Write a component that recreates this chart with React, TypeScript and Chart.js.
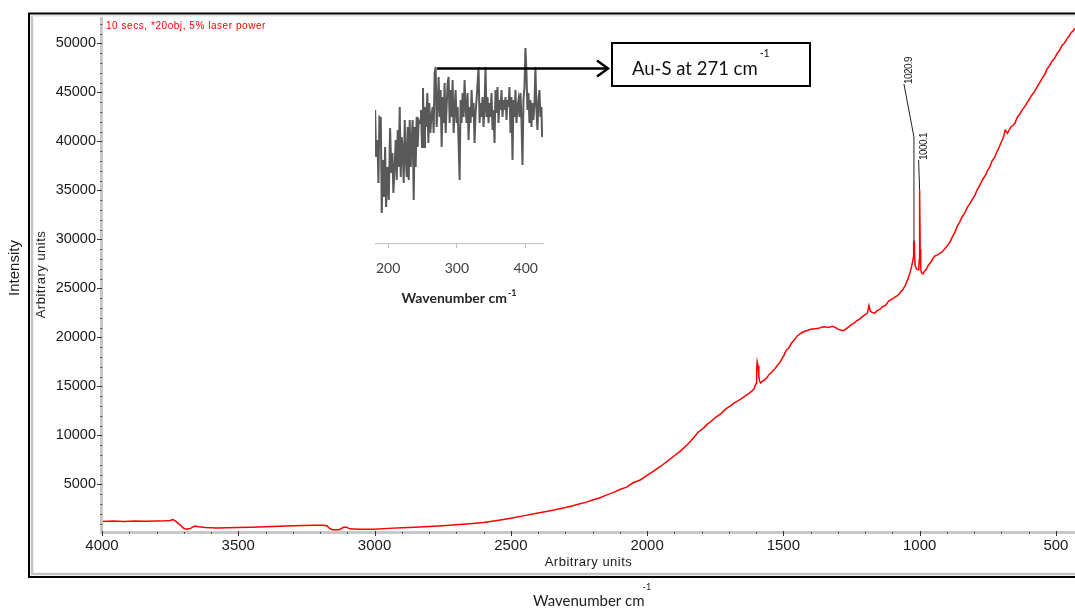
import React, { useEffect, useRef } from 'react';
import { Chart, registerables } from 'chart.js';

Chart.register(...registerables);

// ---------------- main Raman spectrum ----------------
const mainWavenumber = [
  4000, 3960, 3920, 3880, 3840, 3800, 3770, 3750, 3740, 3730, 3715, 3700, 3690, 3675, 3660, 3645, 3620, 3580, 3540, 3500,
  3450, 3400, 3350, 3300, 3260, 3220, 3190, 3175, 3165, 3155, 3130, 3115, 3105, 3090, 3060, 3030, 3000, 2950, 2900, 2850,
  2800, 2750, 2700, 2650, 2600, 2550, 2500, 2450, 2400, 2350,
  2300, 2275, 2250, 2225, 2200, 2175, 2150, 2125, 2100, 2075, 2050, 2025, 2000, 1975, 1950, 1925, 1900, 1875, 1850, 1830,
  1813, 1795, 1780, 1765, 1750, 1730, 1710, 1695, 1680, 1665, 1650, 1637, 1625, 1615, 1608, 1603, 1600, 1598, 1596, 1593,
  1590, 1587, 1583, 1578, 1570, 1560, 1552, 1545, 1538, 1530, 1520, 1512, 1505, 1497, 1490, 1480, 1470, 1460, 1450, 1440,
  1430, 1415, 1400, 1385, 1370, 1358, 1348, 1335, 1320, 1310, 1300, 1290, 1280, 1270, 1260, 1250, 1240, 1230, 1220, 1210,
  1200, 1192, 1186, 1181, 1175, 1165, 1155, 1145, 1135, 1125, 1115, 1107, 1098, 1090, 1082, 1075, 1068, 1063, 1057, 1052,
  1047, 1042, 1035, 1030, 1026, 1023, 1022, 1020.5, 1019, 1017, 1012, 1006, 1003, 1001, 1000.5, 999.5, 998, 996, 993, 988,
  982, 975, 968, 958, 946, 935, 920, 910, 898, 888, 880, 870, 862, 853, 845, 835, 825, 815, 805, 797,
  789, 780, 770, 760, 752, 743, 735, 725, 716, 708, 700, 694, 690, 686, 682, 678, 672, 665, 658, 650,
  642, 633, 625, 615, 606, 598, 590, 580, 569, 560, 550, 541, 533, 524, 515, 505, 496, 487, 478, 469,
  460, 452, 445, 437, 430,
];
const mainIntensity = [
  1230, 1260, 1220, 1270, 1240, 1280, 1300, 1330, 1420, 1250, 900, 520, 430, 520, 760, 680, 600, 560, 590, 600,
  640, 680, 740, 780, 820, 850, 830, 780, 520, 380, 390, 600, 650, 470, 430, 420, 440, 520, 580, 640,
  700, 780, 880, 990, 1110, 1320, 1560, 1820, 2080, 2350,
  2650, 2800, 3000, 3170, 3420, 3620, 3910, 4170, 4480, 4730, 5200, 5460, 5920, 6380, 6860, 7380, 7930, 8480, 9120, 9740,
  10330, 10700, 11130, 11450, 11830, 12200, 12730, 13000, 13330, 13550, 13830, 14100, 14330, 14550, 14730, 15120, 15300, 16800, 17500, 17100,
  16000, 15500, 15350, 15520, 15630, 15920, 16230, 16380, 16630, 16830, 17230, 17480, 17830, 18230, 18680, 18930, 19430, 19730, 20130, 20330,
  20530, 20680, 20830, 20880, 20930, 21080, 21100, 21020, 21130, 21030, 20850, 20760, 20700, 20880, 21080, 21330, 21470, 21730, 21870, 22130,
  22320, 22480, 23250, 22700, 22560, 22480, 22760, 22880, 23170, 23280, 23670, 23830, 23970, 24130, 24270, 24430, 24720, 24830, 25120, 25330,
  25720, 26030, 26670, 27180, 27720, 28180, 29600, 29700, 28900, 27400, 27000, 26900, 27300, 28000, 35000, 34500, 29000, 27000, 26600, 26480,
  26770, 26980, 27370, 27730, 28270, 28430, 28670, 28980, 29370, 29780, 30270, 30780, 31370, 31780, 32270, 32680, 33270, 33680, 34170, 34530,
  35070, 35480, 36070, 36480, 36970, 37380, 37970, 38380, 38970, 39430, 39970, 40330, 40720, 41150, 41000, 40830, 41170, 41480, 41630, 41880,
  42470, 42780, 43170, 43530, 43970, 44280, 44670, 45030, 45570, 45980, 46470, 46830, 47370, 47680, 48170, 48480, 48970, 49280, 49770, 50030,
  50470, 50730, 51070, 51280, 51550,
];
const xTickValues = [4000, 3500, 3000, 2500, 2000, 1500, 1000, 500];
const yTickValues = [5000, 10000, 15000, 20000, 25000, 30000, 35000, 40000, 45000, 50000];
const peakLabelWavenumber = [1020.9, 1000.1];
const peakLabelText = ['1020.9', '1000.1'];
const peakTopIntensity = [29650, 35000];
const annotationText = '10 secs, *20obj, 5% laser power';

// ---------------- inset (Au-S region) ----------------
const insetWavenumber = [
  181.2, 182.6, 184.5, 186.0, 187.4, 189.4, 190.8, 192.3, 194.2, 195.7, 197.1, 199.0, 201.0, 202.9, 204.8, 206.3, 207.7, 209.7, 211.1, 212.6,
  214.0, 215.5, 216.9, 218.4, 219.8, 221.3, 222.7, 224.2, 225.6, 227.1, 228.5, 230.0, 231.4, 232.9, 234.3, 235.7, 237.2, 238.6, 240.1, 241.5,
  243.0, 244.4, 246.4, 247.8, 249.3, 250.7, 252.2, 253.6, 255.1, 257.0, 258.5, 259.9, 261.4, 262.8, 264.7, 266.2, 267.6, 269.1, 270.5, 272.0,
  273.4, 274.9, 276.3, 277.8, 279.2, 280.7, 282.1, 283.6, 285.0, 286.5, 287.9, 289.4, 290.8, 292.3, 293.7, 295.2, 296.6, 298.1, 299.5, 301.0,
  302.4, 303.9, 305.3, 306.8, 308.2, 309.7, 311.1, 312.6, 314.0, 315.5, 316.9, 318.4, 319.8, 321.3, 322.7, 324.2, 325.6, 327.1, 328.5, 330.0,
  331.4, 332.9, 334.3, 335.7, 337.2, 338.6, 340.1, 341.5, 343.0, 344.4, 345.9, 347.3, 348.8, 350.2, 351.7, 353.1, 354.6, 356.0, 357.5, 358.9,
  360.4, 361.8, 363.3, 364.7, 366.2, 367.6, 369.1, 370.5, 372.0, 373.4, 374.9, 376.3, 377.8, 379.2, 380.7, 382.1, 383.6, 385.0, 386.5, 387.9,
  389.4, 390.8, 392.3, 393.7, 395.2, 396.6, 398.1, 399.5, 401.0, 402.4, 403.9, 405.3, 406.8, 408.2, 409.7, 411.1, 412.6, 414.0, 415.5, 416.9,
  418.4, 419.8, 421.3, 422.7, 423.7,
];
const insetIntensity = [
  133, 86, 103, 60, 126, 125, 30, 83, 46, 96, 36, 76, 43, 115, 70, 90, 50, 80, 103, 63,
  113, 76, 136, 66, 106, 93, 60, 123, 86, 66, 116, 63, 123, 76, 103, 123, 43, 116, 76, 126,
  96, 123, 120, 133, 96, 155, 96, 136, 116, 150, 100, 140, 110, 126, 136, 110, 170, 176, 116, 136,
  166, 126, 153, 96, 146, 120, 160, 110, 136, 160, 166, 120, 153, 126, 163, 110, 133, 153, 120, 136,
  100, 63, 143, 120, 150, 126, 163, 136, 120, 150, 103, 136, 120, 153, 126, 140, 100, 130, 143, 160,
  176, 120, 140, 126, 146, 116, 136, 176, 126, 146, 120, 140, 126, 150, 113, 133, 100, 153, 130, 156,
  120, 143, 133, 153, 126, 143, 133, 146, 123, 143, 136, 156, 110, 146, 83, 143, 126, 153, 120, 136,
  143, 126, 150, 123, 78, 143, 156, 195, 170, 133, 150, 120, 143, 116, 140, 123, 140, 176, 133, 113,
  143, 153, 126, 136, 106,
];
const insetTickValues = [200, 300, 400];
const auPeakWavenumber = 271;
const auArrowLevel = 175;
const auLabelText = 'Au-S at 271 cm';
const superMinusOne = '-1';

// ---------------- styles ----------------
const SANS = '"Liberation Sans", Arial, sans-serif';
const CAL = 'Lato, "Open Sans", sans-serif';
const RED = '#ff0000';
const AXIS_GRAY = '#c8c8c8';

function line(ctx: CanvasRenderingContext2D, x1: number, y1: number, x2: number, y2: number) {
  ctx.beginPath();
  ctx.moveTo(x1, y1);
  ctx.lineTo(x2, y2);
  ctx.stroke();
}

const mainDecor = {
  id: 'mainDecor',
  beforeDraw(chart: any) {
    const ctx: CanvasRenderingContext2D = chart.ctx;
    ctx.save();
    ctx.fillStyle = '#fff';
    ctx.fillRect(0, 0, chart.width, chart.height);
    ctx.strokeStyle = '#c4c4c4';
    ctx.lineWidth = 2.5;
    line(ctx, 32, 15, 32, 575);
    line(ctx, 31, 574, 1080, 574);
    ctx.strokeStyle = '#e4e4e4';
    ctx.lineWidth = 1.5;
    line(ctx, 31, 15.8, 1080, 15.8);
    ctx.strokeStyle = '#000';
    ctx.lineWidth = 2;
    ctx.strokeRect(29, 13.5, 1100, 563.5);
    ctx.restore();
  },
  afterDatasetsDraw(chart: any) {
    const ctx: CanvasRenderingContext2D = chart.ctx;
    const { left, right, top, bottom } = chart.chartArea;
    const xs = chart.scales.x;
    const ys = chart.scales.y;
    ctx.save();
    ctx.fillStyle = AXIS_GRAY;
    ctx.fillRect(left - 2, top, 3, bottom - top + 2);
    ctx.fillRect(left - 2, bottom - 1, right - left + 2, 3);
    ctx.fillStyle = '#333';
    for (let v = 1000; v <= 52000; v += 1000) {
      const py = Math.round(ys.getPixelForValue(v));
      if (v % 5000 === 0) ctx.fillRect(left - 5, py, 5, 1);
      else ctx.fillRect(left - 1.5, py, 1.5, 1);
    }
    for (let v = 4000; v >= 500; v -= 100) {
      const px = Math.round(xs.getPixelForValue(v));
      if (v % 500 === 0) ctx.fillRect(px, bottom - 1, 1, 5);
      else ctx.fillRect(px, bottom, 1, 1.5);
    }
    // peak labels with leader lines
    const leaderElbowY = [137, 190];
    const labelDx = [-10, -1];
    const labelBaseY = [84, 160];
    const textDx = [5, 6];
    ctx.strokeStyle = '#222';
    ctx.lineWidth = 1;
    ctx.font = `10px ${SANS}`;
    ctx.fillStyle = '#222';
    peakLabelWavenumber.forEach((wn, i) => {
      const px = xs.getPixelForValue(wn);
      const py = ys.getPixelForValue(peakTopIntensity[i]);
      ctx.beginPath();
      ctx.moveTo(px, py);
      ctx.lineTo(px, leaderElbowY[i]);
      ctx.lineTo(px + labelDx[i], labelBaseY[i]);
      ctx.stroke();
      ctx.save();
      ctx.translate(px + labelDx[i] + textDx[i], labelBaseY[i]);
      ctx.rotate(-Math.PI / 2);
      ctx.textAlign = 'left';
      ctx.textBaseline = 'middle';
      (ctx as any).letterSpacing = '-0.6px';
      ctx.fillText(peakLabelText[i], 0, 0);
      ctx.restore();
    });
    // annotation
    ctx.fillStyle = RED;
    ctx.font = `10px ${SANS}`;
    (ctx as any).letterSpacing = '0.55px';
    ctx.textAlign = 'left';
    ctx.textBaseline = 'alphabetic';
    ctx.fillText(annotationText, left + 4, 29);
    // axis titles
    ctx.fillStyle = '#1a1a1a';
    ctx.font = `13px ${SANS}`;
    (ctx as any).letterSpacing = '0.5px';
    ctx.textAlign = 'center';
    ctx.fillText('Arbitrary units', (left + right) / 2, 566);
    ctx.save();
    ctx.translate(41, (top + bottom) / 2);
    ctx.rotate(-Math.PI / 2);
    ctx.textBaseline = 'middle';
    ctx.fillText('Arbitrary units', 0, 0);
    ctx.restore();
    (ctx as any).letterSpacing = '0px';
    ctx.save();
    ctx.font = `15px ${SANS}`;
    ctx.translate(15, 268);
    ctx.rotate(-Math.PI / 2);
    ctx.textBaseline = 'middle';
    ctx.fillText('Intensity', 0, 0);
    ctx.restore();
    ctx.textAlign = 'left';
    ctx.textBaseline = 'alphabetic';
    ctx.font = `15px ${CAL}`;
    ctx.fillStyle = '#222';
    const w = ctx.measureText('Wavenumber cm').width;
    ctx.fillText('Wavenumber cm', 533, 606);
    ctx.font = `9px ${CAL}`;
    ctx.fillText(superMinusOne, 533 + w - 2, 590);
    ctx.restore();
  },
};

const insetDecor = {
  id: 'insetDecor',
  afterDraw(chart: any) {
    const ctx: CanvasRenderingContext2D = chart.ctx;
    const { left, right } = chart.chartArea;
    const xs = chart.scales.x;
    const ys = chart.scales.y;
    ctx.save();
    ctx.fillStyle = '#262626';
    ctx.font = `bold 14px ${CAL}`;
    const t = 'Wavenumber cm';
    const tw = ctx.measureText(t).width;
    ctx.font = `bold 9px ${CAL}`;
    const sw = ctx.measureText(superMinusOne).width;
    const cx = (left + right) / 2;
    const tx = cx - (tw + sw + 1) / 2;
    ctx.font = `bold 14px ${CAL}`;
    ctx.textBaseline = 'alphabetic';
    ctx.fillText(t, tx, 268);
    ctx.font = `bold 9px ${CAL}`;
    ctx.fillText(superMinusOne, tx + tw + 1, 261);
    // arrow
    const ax = xs.getPixelForValue(auPeakWavenumber);
    const ay = Math.round(ys.getPixelForValue(auArrowLevel)) + 0.5;
    const boxL = 257;
    const tipX = boxL - 4;
    ctx.strokeStyle = '#000';
    ctx.lineWidth = 2.5;
    line(ctx, ax, ay, tipX, ay);
    ctx.beginPath();
    ctx.moveTo(tipX - 11, ay - 8);
    ctx.lineTo(tipX, ay);
    ctx.lineTo(tipX - 11, ay + 8);
    ctx.stroke();
    // box
    ctx.fillStyle = '#fff';
    ctx.fillRect(boxL, 8, 198, 43);
    ctx.lineWidth = 2;
    ctx.strokeRect(boxL, 8, 198, 43);
    ctx.fillStyle = '#111';
    ctx.font = `18.5px ${CAL}`;
    const lw = ctx.measureText(auLabelText).width;
    ctx.fillText(auLabelText, boxL + 20, 40);
    ctx.font = `10.5px ${CAL}`;
    ctx.fillText(superMinusOne, boxL + 20 + lw + 2, 22);
    ctx.restore();
  },
};

export default function App() {
  const mainRef = useRef<HTMLCanvasElement>(null);
  const insetRef = useRef<HTMLCanvasElement>(null);

  useEffect(() => {
    document.body.style.margin = '0';
    const mainCtx = mainRef.current!.getContext('2d')!;
    const main = new Chart(mainCtx, {
      type: 'line',
      data: {
        datasets: [
          {
            data: mainWavenumber.map((x, i) => ({ x, y: mainIntensity[i] })),
            borderColor: RED,
            borderWidth: 1.5,
            pointRadius: 0,
            tension: 0,
          },
        ],
      },
      options: {
        responsive: false,
        animation: false,
        devicePixelRatio: 1,
        parsing: false as any,
        layout: { padding: { top: 17, left: 0, right: 0, bottom: 0 } },
        plugins: { legend: { display: false }, tooltip: { enabled: false }, title: { display: false } },
        scales: {
          x: {
            type: 'linear',
            reverse: true,
            min: 430,
            max: 4000,
            grid: { display: false, drawTicks: false },
            border: { display: false },
            afterBuildTicks: (s: any) => {
              s.ticks = xTickValues.map((v) => ({ value: v }));
            },
            afterFit: (s: any) => {
              s.height = 78;
              s.paddingLeft = 0;
              s.paddingRight = 0;
            },
            ticks: {
              autoSkip: false,
              maxRotation: 0,
              padding: 5,
              color: '#1a1a1a',
              font: { family: SANS, size: 15 },
              callback: (v: any) => String(v),
            },
          },
          y: {
            type: 'linear',
            min: 150,
            max: 52700,
            grid: { display: false, drawTicks: false },
            border: { display: false },
            afterBuildTicks: (s: any) => {
              s.ticks = yTickValues.map((v) => ({ value: v }));
            },
            afterFit: (s: any) => {
              s.width = 102;
              s.paddingTop = 0;
              s.paddingBottom = 0;
            },
            ticks: {
              padding: 6,
              color: '#1a1a1a',
              font: { family: SANS, size: 14.5 },
              callback: (v: any) => String(v),
            },
          },
        },
      },
      plugins: [mainDecor],
    });

    const insetCtx = insetRef.current!.getContext('2d')!;
    const inset = new Chart(insetCtx, {
      type: 'line',
      data: {
        datasets: [
          {
            data: insetWavenumber.map((x, i) => ({ x, y: insetIntensity[i] })),
            borderColor: '#595959',
            borderWidth: 2,
            pointRadius: 0,
            tension: 0,
          },
        ],
      },
      options: {
        responsive: false,
        animation: false,
        devicePixelRatio: 1,
        parsing: false as any,
        layout: { padding: { top: 8, left: 20, right: 272, bottom: 0 } },
        plugins: { legend: { display: false }, tooltip: { enabled: false } },
        scales: {
          x: {
            type: 'linear',
            min: 181,
            max: 425,
            grid: { display: true, drawOnChartArea: false, drawTicks: true, tickLength: 5, color: '#bfbfbf' },
            border: { display: true, color: '#bfbfbf', width: 1 },
            afterBuildTicks: (s: any) => {
              s.ticks = insetTickValues.map((v) => ({ value: v }));
            },
            afterFit: (s: any) => {
              s.height = 67;
              s.paddingLeft = 0;
              s.paddingRight = 0;
            },
            ticks: {
              autoSkip: false,
              maxRotation: 0,
              padding: 12,
              color: '#404040',
              font: { family: CAL, size: 14 },
              callback: (v: any) => String(v),
            },
          },
          y: { type: 'linear', display: false, min: 0, max: 200 },
        },
      },
      plugins: [insetDecor],
    });

    return () => {
      main.destroy();
      inset.destroy();
    };
  }, []);

  return (
    <div style={{ position: 'relative', width: 1075, height: 610, overflow: 'hidden', background: '#fff' }}>
      <canvas ref={mainRef} width={1075} height={610} style={{ position: 'absolute', left: 0, top: 0, width: 1075, height: 610 }} />
      <canvas ref={insetRef} width={460} height={275} style={{ position: 'absolute', left: 355, top: 35, width: 460, height: 275 }} />
    </div>
  );
}
